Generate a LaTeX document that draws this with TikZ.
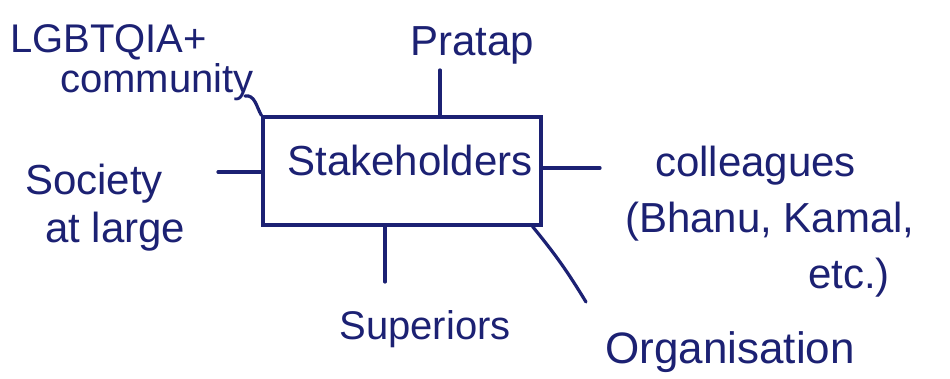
\documentclass[tikz,border=0pt]{standalone}
\usepackage{fontspec}
\setmainfont{Liberation Sans}
\definecolor{ink}{RGB}{28,33,115}
\begin{document}
\begin{tikzpicture}[x=1pt,y=-1pt,
  hand/.style={text=ink, inner sep=0pt, font=\fontsize{40}{44}\selectfont},
  wire/.style={draw=ink, line width=3.2pt, line cap=round},
  stakebox/.style={draw=ink, line width=3.2pt, minimum width=278pt, minimum height=108pt, inner sep=0pt, text=ink, font=\fontsize{42}{44}\selectfont}]
\useasboundingbox[fill=white] (0,0) rectangle (950,379);
% central box
\node[stakebox] (sh) at (402,171) {\raisebox{22pt}{\hspace*{16pt}Stakeholders}};
% labels
\node[hand, align=left, anchor=west, font=\fontsize{40}{40}\selectfont] (lg) at (10,63) {LGBTQIA+\\\hspace*{50pt}community};
\node[hand, font=\fontsize{42}{44}\selectfont] (pr) at (472,45) {Pratap};
\node[hand, align=left, anchor=west, font=\fontsize{42}{48}\selectfont] (so) at (25,208) {Society\\\hspace*{20pt}at large};
\node[hand, align=left, anchor=west, font=\fontsize{42}{56}\selectfont] (co) at (625,222) {\hspace*{30pt}colleagues\\(Bhanu, Kamal,\\\hspace*{183pt}etc.)};
\node[hand] (su) at (425,329) {Superiors};
\node[hand, font=\fontsize{44}{46}\selectfont] (or) at (730,352) {Organisation};
% connector ends
\coordinate (pe) at (440,70);
\coordinate (le) at (245,96);
\coordinate (se) at (218,172);
\coordinate (ce) at (600,168);
\coordinate (ue) at (385,282);
\coordinate (oe) at (586,302);
% connectors
\draw[wire] (pe) -- (sh.north -| pe);
\draw[wire] (le) to[out=10,in=120] (sh.north west);
\draw[wire] (se) -- (sh.west |- se);
\draw[wire] (sh.east |- ce) -- (ce);
\draw[wire] (sh.south -| ue) -- (ue);
\draw[wire] ([xshift=-10pt]sh.south east) to[bend left=4] (oe);
\end{tikzpicture}
\end{document}
